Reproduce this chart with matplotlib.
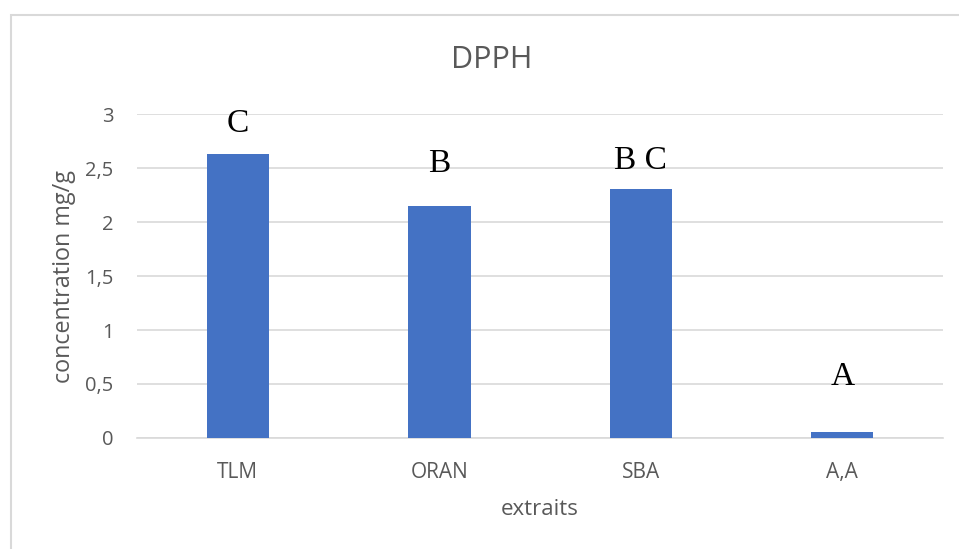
import matplotlib.pyplot as plt
import matplotlib.patches as mpatches
import numpy as np

# Données DPPH (mg/g)
extraits = ['TLM', 'ORAN', 'SBA', 'A,A']
concentration = [2.63, 2.15, 2.31, 0.055]
lettres = ['C', 'B', 'B C', 'A']
lettres_dy = [16, 24.5, 14, 34]   # décalage (points) au-dessus des barres

yticks = [0, 0.5, 1, 1.5, 2, 2.5, 3]
yticklabels = ['0', '0,5', '1', '1,5', '2', '2,5', '3']

gris = '#595959'
plt.rcParams['font.family'] = ['Open Sans', 'DejaVu Sans']

fig = plt.figure(figsize=(9.59, 5.49), dpi=100)
ax = fig.add_axes([0.1429, 0.2022, 0.8404, 0.5901])

x = np.arange(len(extraits))
bars = ax.bar(x, concentration, width=0.31, color='#4472C4', zorder=3)

ax.set_xlim(-0.5, len(extraits) - 0.5)
ax.set_ylim(0, 3)
ax.set_yticks(yticks)
ax.set_yticklabels(yticklabels)
ax.set_xticks(x)
ax.set_xticklabels(extraits)
ax.tick_params(axis='y', length=0, pad=17, labelsize=14.5, labelcolor=gris)
ax.tick_params(axis='x', length=0, pad=17, labelsize=15, labelcolor=gris)

ax.grid(axis='y', color='#d9d9d9', linewidth=1.2, zorder=0)
for s in ['top', 'right', 'left']:
    ax.spines[s].set_visible(False)
ax.spines['bottom'].set_color('#d9d9d9')
ax.spines['bottom'].set_linewidth(1.2)

fig.text(492 / 959, 1 - 60 / 549, 'DPPH', fontsize=22, color=gris,
         ha='center', va='center')
ax.set_xlabel('extraits', fontsize=16, color=gris, va='center')
ax.xaxis.set_label_coords(0.5, -0.222)
ax.set_ylabel('concentration mg/g', fontsize=16.8, color=gris, va='center')
ax.yaxis.set_label_coords(-0.0906, 0.5)

# lettres de significativité
for rect, lettre, dy in zip(bars, lettres, lettres_dy):
    ax.annotate(lettre, xy=(rect.get_x() + rect.get_width() / 2, rect.get_height()),
                xytext=(0, dy), textcoords='offset points',
                ha='center', va='baseline', fontsize=24,
                family='Liberation Serif', color='black')

# cadre du graphique
fig.patches.append(mpatches.Rectangle((11 / 959, -0.1), 1.2, 1 - 15 / 549 + 0.1,
                                      transform=fig.transFigure, fill=False,
                                      edgecolor='#d9d9d9', linewidth=1.5))

fig.savefig('out.png', dpi=100)
